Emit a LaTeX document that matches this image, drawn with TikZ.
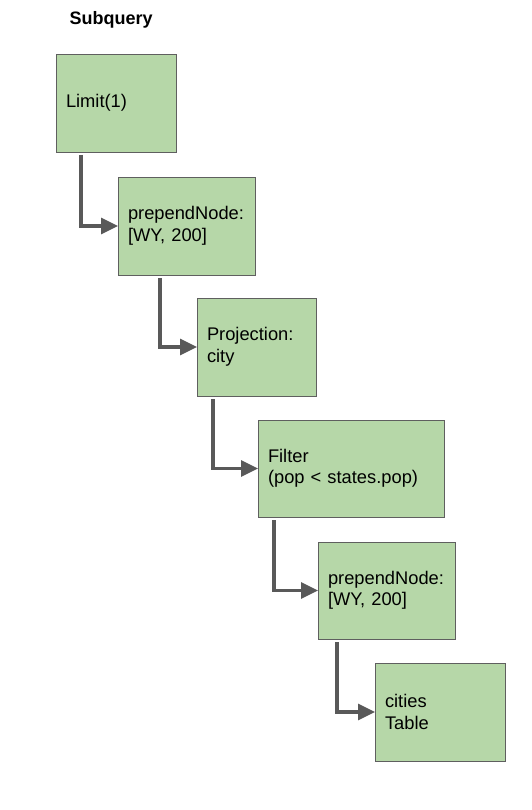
\documentclass[tikz,border=0pt]{standalone}
\usepackage{fontspec}
\setmainfont{Liberation Sans}
\usetikzlibrary{arrows.meta}
\definecolor{boxfill}{HTML}{B6D7A8}
\definecolor{boxline}{HTML}{5F5F5F}
\definecolor{arrcol}{HTML}{595959}
\tikzset{
  opbox/.style={draw=boxline, line width=0.9pt, fill=boxfill, anchor=north west,
    inner xsep=10pt, inner ysep=0pt, outer sep=0pt, align=left,
    font=\fontsize{18.3}{21.5}\selectfont},
  flow/.style={draw=arrcol, line width=3.2pt, -{Triangle[length=17pt,width=16pt]}}
}
\newcommand{\opnode}[7]{\node[opbox, text width=#4pt-20pt, minimum height=#5pt] (#1) at (#2,#3) {#6};}
\begin{document}
\begin{tikzpicture}[x=1pt,y=-1pt]
\useasboundingbox (0,0) rectangle (531,810);
\node[font=\bfseries\fontsize{18}{21.5}\selectfont, anchor=west] (title) at (66,20) {Subquery};
\opnode{b1}{56}{54}{120}{98}{Limit(1)}{}
\opnode{b2}{118}{177}{137}{98}{prependNode:\\\relax [WY, 200]}{}
\opnode{b3}{197}{298}{119}{98}{Projection:\\city}{}
\opnode{b4}{258}{420}{186}{97}{Filter\\(pop < states.pop)}{}
\opnode{b5}{318}{542}{137}{97}{prependNode:\\\relax [WY, 200]}{}
\opnode{b6}{375}{663}{130}{98}{cities\\Table}{}
\draw[flow] ([xshift=25pt,yshift=-3pt]b1.south west) |- (b2.west);
\draw[flow] ([xshift=42pt,yshift=-3pt]b2.south west) |- (b3.west);
\draw[flow] ([xshift=16pt,yshift=-3pt]b3.south west) |- (b4.west);
\draw[flow] ([xshift=16pt,yshift=-3pt]b4.south west) |- (b5.west);
\draw[flow] ([xshift=19pt,yshift=-3pt]b5.south west) |- (b6.west);
\end{tikzpicture}
\end{document}
